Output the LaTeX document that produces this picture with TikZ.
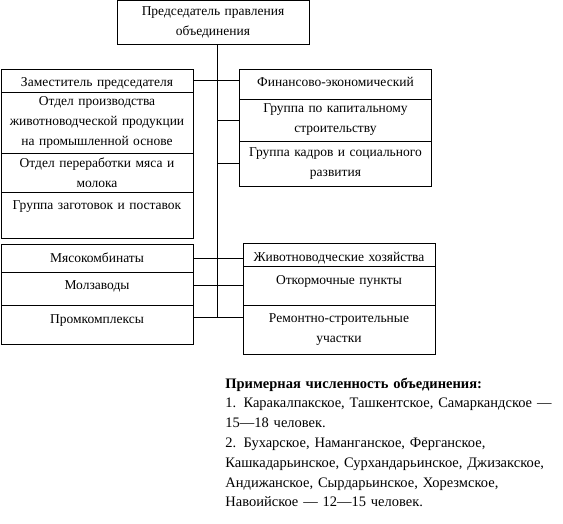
\documentclass[tikz,border=0pt]{standalone}
\usepackage{fontspec}
\setmainfont{Liberation Serif}
\usetikzlibrary{positioning}

\begin{document}
\begin{tikzpicture}[x=1pt, y=-1pt, line width=0.8pt, every node/.style={font=\fontsize{13.5}{20}\selectfont}]
\tikzstyle{cell}=[rectangle, draw, anchor=north, align=center, inner xsep=2pt, inner ysep=0pt, outer sep=0pt, text width=188pt]
\useasboundingbox (0,0) rectangle (563,523);
\node[cell, minimum height=44pt] (pred) at (213,0.5) {Председатель правления\\объединения};
\coordinate (trunk) at (217,317);
% left column
\node[cell, text height=17pt, text depth=6pt] (zam) at (97,69) {Заместитель председателя};
\node[cell, minimum height=61pt, below=0pt of zam] (otdprod) {Отдел производства\\животноводческой продукции\\на промышленной основе};
\node[cell, minimum height=39pt, below=0pt of otdprod] (pererab) {Отдел переработки мяса и\\молока};
\node[cell, text height=17pt, text depth=29pt, below=0pt of pererab] (zagot) {Группа заготовок и поставок};
% right column
\node[cell, text height=17pt, text depth=13pt] (fin) at (335.5,69) {Финансово-экономический};
\node[cell, minimum height=42pt, below=0pt of fin] (kapstr) {Группа по капитальному\\строительству};
\node[cell, minimum height=45pt, below=0pt of kapstr] (kadry) {Группа кадров и социального\\развития};
% lower blocks
\node[cell, text height=18pt, text depth=10pt] (myaso) at (97,244) {Мясокомбинаты};
\node[cell, text height=17pt, text depth=16pt, below=0pt of myaso] (molz) {Молзаводы};
\node[cell, text height=18pt, text depth=21pt, below=0pt of molz] (promk) {Промкомплексы};
\node[cell, text height=18pt, text depth=5pt] (zhivkh) at (339,243) {Животноводческие хозяйства};
\node[cell, text height=18pt, text depth=21pt, below=0pt of zhivkh] (otkorm) {Откормочные пункты};
\node[cell, minimum height=49pt, below=0pt of otkorm] (remstr) {Ремонтно-строительные\\участки};
% note
\node[anchor=base west, text width=337pt, align=left, inner sep=0pt, font=\fontsize{14.5}{19.8}\selectfont] (chisl) at (225,388) {\textbf{Примерная численность объединения:}\\1. Каракалпакское, Ташкентское, Самаркандское —\\15—18 человек.\\2. Бухарское, Наманганское, Ферганское,\\Кашкадарьинское, Сурхандарьинское, Джизакское,\\Андижанское, Сырдарьинское, Хорезмское,\\Навоийское — 12—15 человек.};
% connectors
\draw (pred.south -| trunk) -- (trunk);
\draw (zam.east) -- (fin.west |- zam.east);
\draw (trunk |- kapstr.west) -- (kapstr.west);
\draw (trunk |- kadry.west) -- (kadry.west);
\draw (myaso.east) -- (zhivkh.west |- myaso.east);
\draw (molz.east |- otkorm.west) -- (otkorm.west);
\draw (promk.east |- trunk) -- (remstr.west |- trunk);
\end{tikzpicture}
\end{document}
